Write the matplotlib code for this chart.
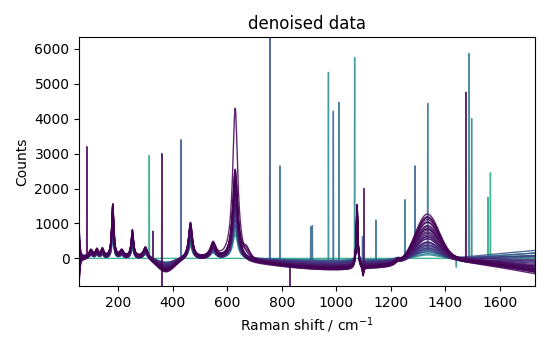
import numpy as np
import matplotlib
matplotlib.use("Agg")
import matplotlib.pyplot as plt

# ---- data ----
wavenumber_range = [57, 1729]            # cm^-1, first/last channel

# common Raman bands: centre, height (for band_scale = 1), half width
band_centers = [100, 122, 142, 180, 213, 252, 300, 465, 548, 1076, 1098, 1225]
band_heights = [200, 200, 220, 1500, 180, 760, 300, 1000, 420, 1800, -250, 90]
band_widths = [8, 6, 6, 4.5, 8, 5, 9, 8, 12, 3.5, 2.5, 12]

# per-spectrum values (index 0 is the flat, spike-only spectrum)
spectrum_tone = [0.60, 0.47, 0.43, 0.36, 0.31, 0.26, 0.23, 0.20, 0.18, 0.16, 0.14,
                 0.13, 0.12, 0.11, 0.10, 0.09, 0.08, 0.075, 0.07, 0.065, 0.06,
                 0.055, 0.05, 0.045, 0.04, 0.035, 0.03, 0.025, 0.02, 0.015, 0.01,
                 0.005, 0.0]
band_scale = [0, 0.35, 0.4, 0.45, 0.5, 0.55, 0.55, 0.6, 0.6, 0.62, 0.65, 0.65, 0.68,
              0.7, 0.7, 0.72, 0.74, 0.75, 0.78, 0.8, 0.8, 0.82, 0.84, 0.86, 0.88,
              0.9, 0.9, 0.92, 0.95, 0.97, 1.0, 1.0, 1.0]
peak_629 = [0, 700, 800, 900, 1000, 1100, 1150, 1250, 1300, 1400, 1450, 1500, 1550,
            1600, 1650, 1700, 1750, 1800, 1850, 1900, 1950, 2000, 2050, 2100, 2150,
            2200, 2250, 2300, 2350, 2450, 2550, 2600, 4350]
shoulder_670 = [0, 0, 0, 0, 0, 0, 0, 0, 0, 0, 0, 0, 0, 0, 0, 0, 0, 0, 0, 0, 0, 0,
                0, 0, 0, 0, 0, 180, 0, 250, 0, 330, 0]
hump_1333 = [0, 120, 150, 200, 230, 260, 300, 320, 350, 380, 420, 450, 480, 520,
             560, 600, 640, 680, 720, 760, 800, 840, 880, 920, 960, 1000, 1050,
             1100, 1150, 1200, 1260, 1300, 1350]
offset = [0, 0, 10, 20, -10, 30, -20, 20, 40, -30, 30, -10, 50, 20, -40, 40, 0, 30,
          -20, 0, 50, -30, 30, 20, -10, 40, -40, 30, 0, 20, 40, -20, 30]
sag = [0, -60, -70, -80, -90, -100, -120, -130, -150, -160, -170, -180, -190, -200,
       -210, -220, -230, -240, -240, -250, -260, -260, -270, -270, -280, -280,
       -290, -290, -300, -300, -310, -310, -320]
dip_375 = [0, -120, -130, -140, -150, -160, -170, -180, -190, -200, -210, -220,
           -230, -240, -250, -260, -270, -280, -290, -300, -300, -310, -310, -320,
           -330, -340, -340, -350, -350, -360, -370, -380, -390]
tilt_right = [0, 40, 50, 130, 170, 200, 110, 60, 10, -30, -60, -100, -130, -160,
              -190, -220, -250, -270, -290, -310, -330, -350, -360, -370, -380,
              -390, -200, -400, -300, -410, -250, -420, -350]
edge_left = [0, 300, 500, -200, 600, 200, -400, 700, 100, -500, 400, -300, 750,
             0, -600, 350, -100, 550, -450, 250, -250, 650, -350, 150, -550, 450,
             -150, 500, -500, 300, -200, 600, -400]

# cosmic-ray spikes: position, top value, spectrum they belong to
spike_x = [85, 314, 327, 360, 361, 430, 756, 793, 830, 906, 912, 971, 989, 1010,
           1067, 1096, 1101, 1145, 1252, 1289, 1335, 1440, 1475, 1486, 1496,
           1556, 1565]
spike_top = [3200, 2950, 780, 3000, -1000, 3400, 7000, 2650, -900, 905, 940, 5330,
             4220, 4470, 5750, 620, 2000, 1100, 1680, 2650, 4440, -250, 4760,
             5870, 4010, 1750, 2450]
spike_owner = [31, 0, 28, 30, 30, 5, 5, 3, 27, 4, 4, 1, 4, 3, 1, 5, 26, 3, 3, 4, 3,
               1, 29, 2, 2, 0, 0]


def lorentz(x, c, w):
    return w ** 2 / ((x - c) ** 2 + w ** 2)


x = np.arange(wavenumber_range[0], wavenumber_range[1] + 1, 1.0)
n_spec = len(spectrum_tone)

fig, ax = plt.subplots(figsize=(5.5, 3.5), dpi=100)
cmap = plt.get_cmap("viridis")

for i in range(n_spec):
    y = np.zeros_like(x)
    if i > 0:
        s = band_scale[i]
        for c, h, w in zip(band_centers, band_heights, band_widths):
            y += s * h * lorentz(x, c, w)
        y += peak_629[i] * lorentz(x, 629, 11)
        y += shoulder_670[i] * lorentz(x, 670, 18)
        y += hump_1333[i] * np.exp(-0.5 * ((x - 1333) / 44) ** 2)
        y += offset[i]
        y += sag[i] * np.exp(-((x - 1000) / 330) ** 2)
        y += dip_375[i] * np.exp(-((x - 375) / 45) ** 2)
        y += tilt_right[i] * np.clip((x - 1440) / 290, 0, None)
        y += edge_left[i] * lorentz(x, wavenumber_range[0], 3)
    for sx, st, so in zip(spike_x, spike_top, spike_owner):
        if so == i:
            y[np.argmin(np.abs(x - sx))] = st
    ax.plot(x, y, color=cmap(spectrum_tone[i]), lw=1.0, alpha=0.85)

ax.set_xlim(wavenumber_range[0], wavenumber_range[1])
ax.set_ylim(-790, 6330)
ax.set_title("denoised data")
ax.set_xlabel("Raman shift / cm$^{-1}$")
ax.set_ylabel("Counts")
fig.subplots_adjust(left=0.144, right=0.973, bottom=0.183, top=0.893)
fig.savefig("out.png", dpi=100)
